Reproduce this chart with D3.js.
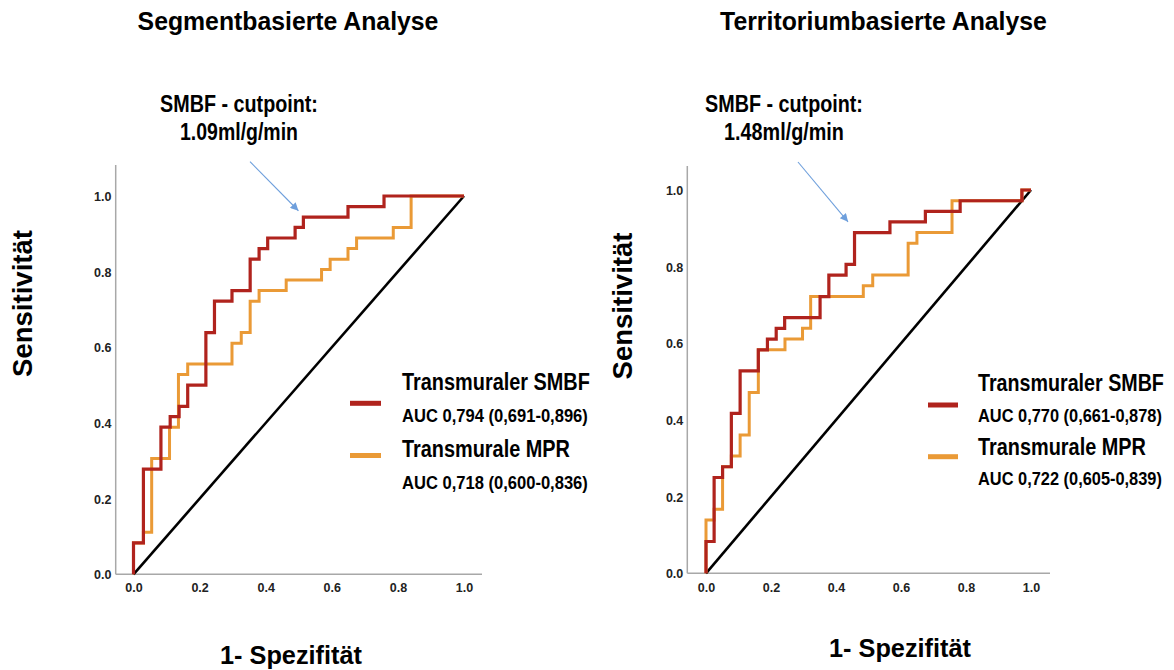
<!DOCTYPE html>
<html><head><meta charset="utf-8">
<script src="https://cdn.jsdelivr.net/npm/d3@7"></script>
<style>
html,body{margin:0;padding:0;background:#fff;}
svg{display:block;font-family:"Liberation Sans",Arial,Helvetica,sans-serif;font-weight:bold;}
</style>
</head><body>
<svg id="c" width="1174" height="670"></svg>
<script>
// ---------- data ----------
const tickValues = [0, 0.2, 0.4, 0.6, 0.8, 1.0];
const tickLabels = ["0.0", "0.2", "0.4", "0.6", "0.8", "1.0"];
const seriesNames = ["Transmuraler SMBF", "Transmurale MPR"];
const panelTitles = ["Segmentbasierte Analyse", "Territoriumbasierte Analyse"];
const cutpointTitle = "SMBF - cutpoint:";
const cutpointValues = ["1.09ml/g/min", "1.48ml/g/min"];
const cutpointFpr = [0.499, 0.437];
const cutpointTpr = [0.961, 0.917];
const segAucLabels = ["AUC 0,794 (0,691-0,896)", "AUC 0,718 (0,600-0,836)"];
const terAucLabels = ["AUC 0,770 (0,661-0,878)", "AUC 0,722 (0,605-0,839)"];
const xAxisTitle = "1- Spezifität";
const yAxisTitle = "Sensitivität";

// ROC corner points (1 - specificity, sensitivity), drawn as a step (sensitivity rises first)
const segSmbfFpr = [0, 0.030, 0.083, 0.111, 0.138, 0.164, 0.219, 0.245, 0.298, 0.353, 0.380, 0.406, 0.489, 0.514, 0.649, 0.758, 1.0];
const segSmbfTpr = [0, 0.083, 0.278, 0.389, 0.417, 0.444, 0.500, 0.639, 0.722, 0.750, 0.833, 0.861, 0.889, 0.917, 0.944, 0.972, 1.0];
const segMprFpr = [0, 0.030, 0.055, 0.109, 0.136, 0.164, 0.298, 0.326, 0.353, 0.380, 0.462, 0.569, 0.595, 0.649, 0.675, 0.786, 0.840, 1.0];
const segMprTpr = [0, 0.083, 0.111, 0.306, 0.389, 0.528, 0.556, 0.611, 0.639, 0.722, 0.750, 0.778, 0.806, 0.833, 0.861, 0.889, 0.917, 1.0];
const terSmbfFpr = [0, 0.025, 0.051, 0.078, 0.105, 0.161, 0.189, 0.216, 0.242, 0.351, 0.378, 0.431, 0.457, 0.566, 0.675, 0.782, 0.972, 1.0];
const terSmbfTpr = [0, 0.083, 0.250, 0.278, 0.417, 0.528, 0.583, 0.611, 0.639, 0.667, 0.722, 0.778, 0.806, 0.889, 0.917, 0.944, 0.972, 1.0];
const terMprFpr = [0, 0.025, 0.051, 0.078, 0.105, 0.133, 0.161, 0.243, 0.297, 0.322, 0.484, 0.513, 0.622, 0.649, 0.757, 0.972, 1.0];
const terMprTpr = [0, 0.139, 0.167, 0.278, 0.306, 0.361, 0.472, 0.583, 0.611, 0.639, 0.722, 0.750, 0.778, 0.861, 0.889, 0.972, 1.0];
const diagonal = [0, 1];

// ---------- styles / layout ----------
const RED = "#b0231d", ORANGE = "#ea9a36", AXIS = "#a8a8a8", ARROW = "#6e9fdc";

const panels = [
  {
    title: panelTitles[0], titleX: 288, titleLen: 301,
    xr: [133.5, 464], yr: [574.3, 196],
    axisTop: 165, axisRightExtra: 18, axisLeftPad: 17.8,
    cut: cutpointValues[0], cutFpr: cutpointFpr[0], cutTpr: cutpointTpr[0],
    cutX: 239, cut1Y: 111.5, cut2Y: 140, cut1Len: 158, cut2Len: 118, arrowFrom: [250, 161.7],
    yTitleX: 32, yTitleY: 303.5, xTitleX: 291, xTitleY: 664,
    smbf: [segSmbfFpr, segSmbfTpr], mpr: [segMprFpr, segMprTpr], auc: segAucLabels,
    legX: 402, legLineX: [350, 381], legLineY: [403.3, 455.5], legTextY: [389.5, 421.5, 457, 488.5],
    legLen: [188, 186, 168, 186],
    tickY: 592, yTickX: 111.5
  },
  {
    title: panelTitles[1], titleX: 883.5, titleLen: 327,
    xr: [706, 1031], yr: [573.3, 190],
    axisTop: 166, axisRightExtra: 19, axisLeftPad: 18.7,
    cut: cutpointValues[1], cutFpr: cutpointFpr[1], cutTpr: cutpointTpr[1],
    cutX: 784, cut1Y: 112, cut2Y: 140, cut1Len: 158, cut2Len: 120, arrowFrom: [798, 162],
    yTitleX: 632, yTitleY: 306, xTitleX: 900, xTitleY: 657,
    smbf: [terSmbfFpr, terSmbfTpr], mpr: [terMprFpr, terMprTpr], auc: terAucLabels,
    legX: 978, legLineX: [928, 958], legLineY: [405, 456.7], legTextY: [391, 421.5, 455, 485],
    legLen: [186, 184, 168, 184],
    tickY: 591.5, yTickX: 683.3
  }
];

const svg = d3.select("#c");
const defs = svg.append("defs");
defs.append("marker").attr("id", "ah").attr("viewBox", "0 0 10 10")
  .attr("refX", 10).attr("refY", 5).attr("markerWidth", 10).attr("markerHeight", 8)
  .attr("markerUnits", "userSpaceOnUse").attr("orient", "auto")
  .append("path").attr("d", "M0,0 L10,5 L0,10 Z").attr("fill", ARROW);

// text drawn at natural size, then condensed horizontally to the width seen in the reference
function txt(g, s, x, y, size, len, anchor, rotate) {
  const t = g.append("text").attr("x", 0).attr("y", 0).attr("font-size", size)
    .attr("text-anchor", anchor || "start").attr("fill", "#000").text(s);
  const w = t.node().getComputedTextLength();
  const sx = len && w ? len / w : 1;
  t.attr("transform", `translate(${x},${y})${rotate ? " rotate(-90)" : ""} scale(${sx},1)`);
  return t;
}

panels.forEach(p => {
  const g = svg.append("g");
  const x = d3.scaleLinear().domain([0, 1]).range(p.xr);
  const y = d3.scaleLinear().domain([0, 1]).range(p.yr);
  const axX = p.xr[0] - p.axisLeftPad;

  // axis lines
  g.append("line").attr("x1", axX).attr("x2", axX).attr("y1", p.axisTop).attr("y2", y(0))
    .attr("stroke", AXIS).attr("stroke-width", 1.5);
  g.append("line").attr("x1", axX).attr("x2", x(1) + p.axisRightExtra).attr("y1", y(0)).attr("y2", y(0))
    .attr("stroke", AXIS).attr("stroke-width", 1.5);

  // tick labels via d3 axes
  const xa = d3.axisBottom(x).tickValues(tickValues).tickFormat((d, i) => tickLabels[i]).tickSize(0).tickPadding(0);
  const xg = g.append("g").attr("transform", `translate(0,${p.tickY})`).call(xa);
  const ya = d3.axisLeft(y).tickValues(tickValues).tickFormat((d, i) => tickLabels[i]).tickSize(0).tickPadding(0);
  const yg = g.append("g").attr("transform", `translate(${p.yTickX},0)`).call(ya);
  [xg, yg].forEach(a => {
    a.select(".domain").remove();
    a.selectAll("text").attr("font-size", 12.5).attr("font-weight", "bold")
      .attr("font-family", '"Liberation Sans",Arial,sans-serif').attr("fill", "#222");
  });
  xg.selectAll("text").attr("dy", 0).attr("y", 0);
  yg.selectAll("text").attr("dy", "0.37em").attr("x", 0);

  // diagonal
  g.append("path").datum(diagonal)
    .attr("d", d3.line().x(d => x(d)).y(d => y(d)))
    .attr("stroke", "#000").attr("stroke-width", 2.6).attr("fill", "none");

  const step = d3.line().x(d => x(d[0])).y(d => y(d[1])).curve(d3.curveStepBefore);
  const mprPts = p.mpr[0].map((v, i) => [v, p.mpr[1][i]]);
  const smbfPts = p.smbf[0].map((v, i) => [v, p.smbf[1][i]]);
  g.append("path").datum(mprPts).attr("d", step).attr("stroke", ORANGE)
    .attr("stroke-width", 3).attr("fill", "none");
  g.append("path").datum(smbfPts).attr("d", step).attr("stroke", RED)
    .attr("stroke-width", 3.2).attr("fill", "none");

  // titles
  txt(g, p.title, p.titleX, 30, 26, p.titleLen, "middle");
  txt(g, cutpointTitle, p.cutX, p.cut1Y, 23, p.cut1Len, "middle");
  txt(g, p.cut, p.cutX, p.cut2Y, 23, p.cut2Len, "middle");
  g.append("line").attr("x1", p.arrowFrom[0]).attr("y1", p.arrowFrom[1])
    .attr("x2", x(p.cutFpr)).attr("y2", y(p.cutTpr))
    .attr("stroke", ARROW).attr("stroke-width", 1.1).attr("marker-end", "url(#ah)");

  txt(g, yAxisTitle, p.yTitleX, p.yTitleY, 27, 147, "middle", true);
  txt(g, xAxisTitle, p.xTitleX, p.xTitleY, 25, 142, "middle");

  // legend
  [RED, ORANGE].forEach((c, i) => {
    g.append("line").attr("x1", p.legLineX[0]).attr("x2", p.legLineX[1])
      .attr("y1", p.legLineY[i]).attr("y2", p.legLineY[i])
      .attr("stroke", c).attr("stroke-width", 5);
  });
  txt(g, seriesNames[0], p.legX, p.legTextY[0], 24, p.legLen[0]);
  txt(g, p.auc[0], p.legX, p.legTextY[1], 18, p.legLen[1]);
  txt(g, seriesNames[1], p.legX, p.legTextY[2], 24, p.legLen[2]);
  txt(g, p.auc[1], p.legX, p.legTextY[3], 18, p.legLen[3]);
});
</script>
</body></html>
